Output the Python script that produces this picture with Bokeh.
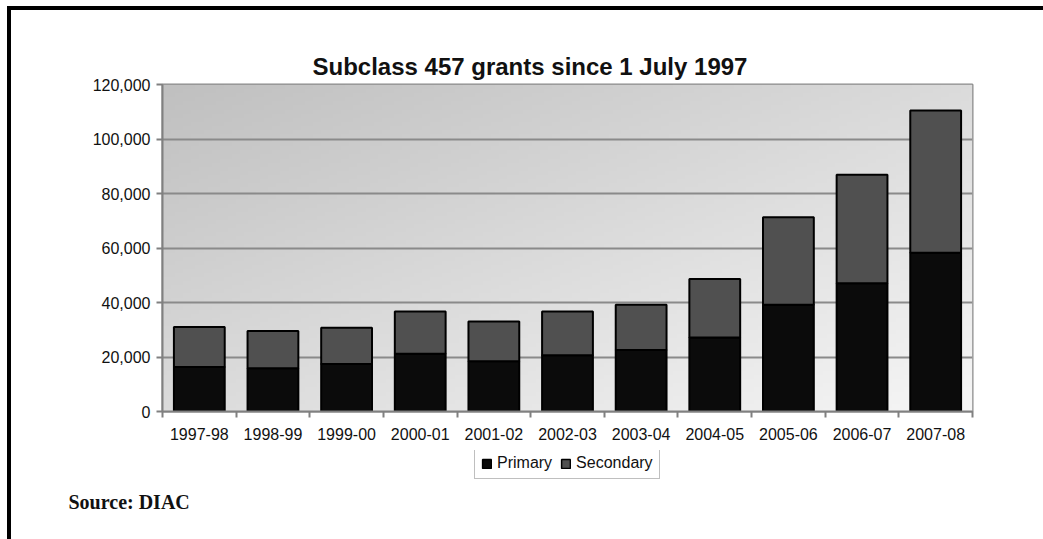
import numpy as np
from bokeh.plotting import figure
from bokeh.layouts import column
from bokeh.models import (FixedTicker, NumeralTickFormatter, Legend, LegendItem,
                          Title, ColumnDataSource, Range1d)
from bokeh.embed import file_html
from bokeh.resources import INLINE

years = ["1997-98", "1998-99", "1999-00", "2000-01", "2001-02", "2002-03",
         "2003-04", "2004-05", "2005-06", "2006-07", "2007-08"]
primary = [16300, 15900, 17400, 21200, 18400, 20600, 22600, 27200, 39200, 47100, 58300]
secondary = [14700, 13600, 13300, 15500, 14600, 16100, 16600, 21400, 32100, 39800, 52200]
y_ticks = [0, 20000, 40000, 60000, 80000, 100000, 120000]
series_names = ["Primary", "Secondary"]
series_colors = ["#0b0b0b", "#505050"]
title_text = "Subclass 457 grants since 1 July 1997"
source_text = "Source: DIAC"

n = len(years)
xs = list(range(n))
x_start, x_end = -0.5, n - 0.5
y_start, y_end = y_ticks[0], y_ticks[-1]

W, H = 1043, 539
H1 = 450            # height of the chart part
H2 = H - H1         # height of the legend / source strip
FL, FR, FT, FB = 162, 71, 84, 39

# ---------------- main chart ----------------
p = figure(width=W, height=H1, output_backend="svg", toolbar_location=None,
           x_range=Range1d(x_start, x_end), y_range=Range1d(y_start, y_end),
           min_border_left=FL, min_border_right=FR, min_border_top=FT,
           min_border_bottom=FB, title=title_text)
p.background_fill_color = "#dcdcdc"
p.border_fill_alpha = 0
p.outline_line_color = "#8a8a8a"
p.outline_line_width = 2

p.title.align = "left"
p.title.offset = 150
p.title.text_font = "Liberation Sans"
p.title.text_font_style = "bold"
p.title.text_font_size = "24px"
p.title.text_color = "#111111"
p.title.standoff = 9

# gradient background of plot area
gw, gh = 200, 80
u = np.linspace(0, 1, gw)[None, :]
v = np.linspace(0, 1, gh)[:, None]  # 0 bottom, 1 top
t = (u + (1 - v)) / 2
g = (0xc0 + t * (0xf6 - 0xc0)).astype(np.uint32)
img = (255 << 24) | (g << 16) | (g << 8) | g
p.image_rgba(image=[img.astype(np.uint32)], x=x_start, y=y_start,
             dw=x_end - x_start, dh=y_end - y_start, level="image")

src = ColumnDataSource(dict(x=xs, primary=primary, secondary=secondary))
rs = p.vbar_stack(["primary", "secondary"], x="x", width=0.69, source=src,
                  color=series_colors, line_color="black", line_width=2)

p.yaxis.ticker = FixedTicker(ticks=y_ticks)
p.yaxis.formatter = NumeralTickFormatter(format="0,0")
p.yaxis.major_tick_out = 6
p.yaxis.major_tick_in = 0
p.yaxis.minor_tick_line_color = None
p.yaxis.axis_line_color = "#808080"
p.yaxis.axis_line_width = 2
p.yaxis.major_tick_line_color = "#808080"
p.yaxis.major_tick_line_width = 2
p.yaxis.major_label_text_font = "Liberation Sans"
p.yaxis.major_label_text_font_size = "16px"
p.yaxis.major_label_text_color = "#111111"
p.yaxis.major_label_standoff = 6

p.xaxis.ticker = FixedTicker(ticks=xs, minor_ticks=[i + 0.5 for i in range(-1, n)])
p.xaxis.major_label_overrides = {i: yr for i, yr in enumerate(years)}
p.xaxis.major_tick_line_color = None
p.xaxis.major_tick_out = 0
p.xaxis.major_tick_in = 0
p.xaxis.minor_tick_out = 6
p.xaxis.minor_tick_in = 0
p.xaxis.minor_tick_line_color = "#808080"
p.xaxis.minor_tick_line_width = 2
p.xaxis.axis_line_color = "#808080"
p.xaxis.axis_line_width = 2
p.xaxis.major_label_text_font = "Liberation Sans"
p.xaxis.major_label_text_font_size = "16px"
p.xaxis.major_label_text_color = "#111111"
p.xaxis.major_label_standoff = 10

p.xgrid.grid_line_color = None
p.ygrid.ticker = FixedTicker(ticks=y_ticks)
p.ygrid.grid_line_color = "#8a8a8a"
p.ygrid.grid_line_width = 2

# ---------------- legend + source strip ----------------
# (its frame is aligned with the chart's frame by the column layout)
B2 = 50
p2 = figure(width=W, height=H2, output_backend="svg", toolbar_location=None,
            x_range=Range1d(FL, W - FR), y_range=Range1d(0, H2 - B2),
            min_border_left=FL, min_border_right=FR, min_border_top=0,
            min_border_bottom=B2, title=None, x_axis_type=None, y_axis_type=None)
p2.background_fill_alpha = 0
p2.border_fill_alpha = 0
p2.outline_line_color = None
p2.grid.grid_line_color = None

psrc = ColumnDataSource(dict(x=xs, primary=primary, secondary=secondary))
proxies = [p2.vbar(x="x", top=col, width=0.69, source=psrc, color=c,
                   line_color="black", line_width=1.5, visible=False)
           for col, c in zip(["primary", "secondary"], series_colors)]
frame2_bottom = H - B2
legend = Legend(items=[LegendItem(label=nm, renderers=[r])
                       for nm, r in zip(series_names, proxies)],
                location=(474 - FL, frame2_bottom - 479), orientation="horizontal",
                label_text_font="Liberation Sans", label_text_font_size="16px",
                label_text_color="#111111",
                glyph_width=11, glyph_height=11, padding=6, spacing=8,
                label_standoff=5, margin=0, label_height=18,
                inactive_fill_alpha=0,
                border_line_color="#808080", border_line_width=1.5,
                background_fill_color="white", background_fill_alpha=1)
p2.add_layout(legend, "center")

p2.add_layout(Title(text=source_text, align="left", offset=68 - FL,
                    vertical_align="top", standoff=2,
                    text_font="Liberation Serif", text_font_style="bold",
                    text_font_size="20px", text_color="#111111"), "below")

# thick black frame lines of the page (top and left), drawn as CSS background
root = column(p, p2, width=W, height=H, spacing=0, styles={
    "background-color": "white",
    "background-image": "linear-gradient(#000,#000), linear-gradient(#000,#000)",
    "background-size": "4px 100%, 100% 4px",
    "background-position": "7px 6px, 7px 6px",
    "background-repeat": "no-repeat",
})

open("out.html", "w").write(file_html(root, INLINE))
